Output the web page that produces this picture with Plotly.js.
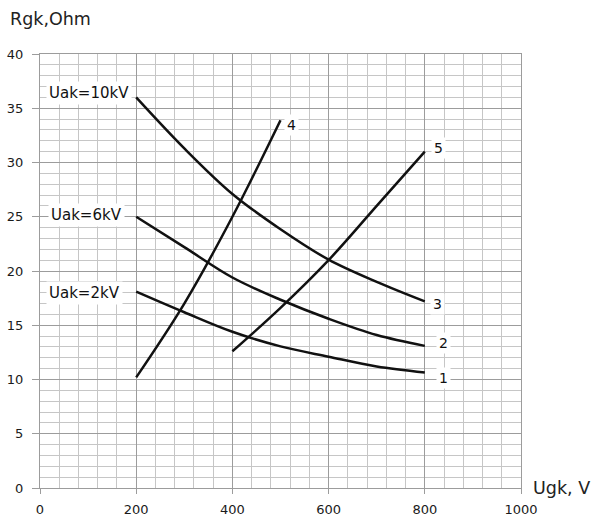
<!DOCTYPE html>
<html>
<head>
<meta charset="utf-8">
<script src="https://cdn.plot.ly/plotly-3.0.1.min.js"></script>
<style>
html,body{margin:0;padding:0;background:#fff;}
#chart{width:593px;height:518px;}
</style>
</head>
<body>
<div id="chart"></div>
<script>
// Curve 1: Uak = 2 kV
var x1 = [200, 300, 400, 500, 600, 700, 800];
var y1 = [18.1, 16.2, 14.4, 13.05, 12.1, 11.2, 10.65];
// Curve 2: Uak = 6 kV
var x2 = [200, 300, 400, 500, 600, 700, 800];
var y2 = [25.0, 22.2, 19.4, 17.35, 15.6, 14.1, 13.1];
// Curve 3: Uak = 10 kV
var x3 = [200, 300, 400, 500, 600, 700, 800];
var y3 = [36.0, 31.3, 27.1, 23.85, 21.05, 19.0, 17.2];
// Curve 4
var x4 = [200, 300, 400, 500];
var y4 = [10.2, 17.0, 25.0, 33.9];
// Curve 5
var x5 = [400, 500, 600, 700, 800];
var y5 = [12.6, 16.6, 21.0, 26.0, 31.0];

var curveNames = ["1", "2", "3", "4", "5"];
var uakLabels = ["Uak=2kV", "Uak=6kV", "Uak=10kV"];
var xTicks = [0, 200, 400, 600, 800, 1000];
var yTicks = [0, 5, 10, 15, 20, 25, 30, 35, 40];
var xTitle = "Ugk, V";
var yTitle = "Rgk,Ohm";

var FONT = "DejaVu Sans, Verdana, sans-serif";
var lineStyle = {color: "#111111", width: 2.5, shape: "spline", smoothing: 1};

var series = [[x1, y1], [x2, y2], [x3, y3], [x4, y4], [x5, y5]];
var traces = series.map(function (s, i) {
  return {x: s[0], y: s[1], type: "scatter", mode: "lines", name: curveNames[i],
          line: lineStyle, hoverinfo: "skip"};
});

function labelAnn(text, x, y, xanchor) {
  return {x: x, y: y, xref: "x", yref: "y", text: text, showarrow: false,
          xanchor: xanchor, yanchor: "middle", bgcolor: "#ffffff", borderpad: 2,
          font: {family: FONT, size: 15, color: "#111111"}};
}
function numAnn(text, x, y) {
  return {x: x, y: y, xref: "x", yref: "y", text: text, showarrow: false,
          xanchor: "center", yanchor: "middle", bgcolor: "#ffffff", borderpad: 2,
          font: {family: FONT, size: 14, color: "#111111"}};
}

var annotations = [
  labelAnn(uakLabels[2], 192, 36.42, "right"),
  labelAnn(uakLabels[1], 176, 25.2, "right"),
  labelAnn(uakLabels[0], 173, 17.93, "right"),
  numAnn(curveNames[0], 838, 10.1),
  numAnn(curveNames[1], 838, 13.32),
  numAnn(curveNames[2], 827, 16.92),
  numAnn(curveNames[3], 523, 33.43),
  numAnn(curveNames[4], 829, 31.34),
  {x: -0.066, y: 1.08, xref: "paper", yref: "paper", text: yTitle, showarrow: false,
   xanchor: "left", yanchor: "middle", font: {family: FONT, size: 17.5, color: "#222222"}},
  {x: 1.021, y: 0.0, xref: "paper", yref: "paper", text: xTitle, showarrow: false,
   xanchor: "left", yanchor: "middle", font: {family: FONT, size: 17.5, color: "#222222"}}
];

var layout = {
  width: 593, height: 518,
  margin: {l: 39.5, r: 71.5, t: 53.5, b: 30, pad: 0},
  paper_bgcolor: "#ffffff", plot_bgcolor: "#ffffff",
  showlegend: false,
  xaxis: {
    range: [0, 1000], tickvals: xTicks, ticktext: xTicks.map(String),
    showgrid: true, gridcolor: "#9c9c9c", gridwidth: 1,
    minor: {dtick: 40, tick0: 0, showgrid: true, gridcolor: "#c6c6c6", gridwidth: 1, ticks: ""},
    zeroline: false, showline: true, linecolor: "#9c9c9c", linewidth: 1, mirror: true,
    ticks: "outside", ticklen: 5, tickcolor: "#9c9c9c", ticklabelstandoff: 4,
    tickfont: {family: FONT, size: 13, color: "#1a1a1a"}, fixedrange: true
  },
  yaxis: {
    range: [0, 40], tickvals: yTicks, ticktext: yTicks.map(String),
    showgrid: true, gridcolor: "#9c9c9c", gridwidth: 1,
    minor: {dtick: 1, tick0: 0, showgrid: true, gridcolor: "#c6c6c6", gridwidth: 1, ticks: ""},
    zeroline: false, showline: true, linecolor: "#9c9c9c", linewidth: 1, mirror: true,
    ticks: "outside", ticklen: 7, tickcolor: "#9c9c9c", ticklabelstandoff: 6,
    tickfont: {family: FONT, size: 13, color: "#1a1a1a"}, fixedrange: true
  },
  annotations: annotations
};

Plotly.newPlot("chart", traces, layout, {staticPlot: true, displayModeBar: false});
</script>
</body>
</html>
